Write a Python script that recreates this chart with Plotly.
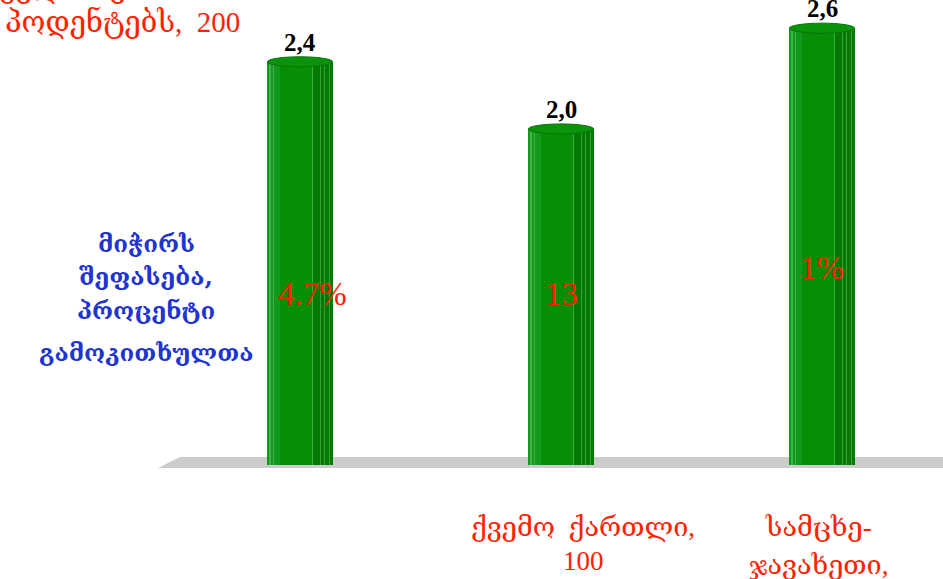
import plotly.graph_objects as go

# ---- data ----
categories = ["ყველა რესპოდენტს, 200", "ქვემო  ქართლი, 100", "სამცხე-ჯავახეთი, 100"]
values = [2.4, 2.0, 2.6]
inner_labels = ["4.7%", "13", "1%"]
inner_label_y = [1.02, 1.02, 1.17]
axis_title_lines = ["მიჭირს", "შეფასება,", "პროცენტი", "გამოკითხულთა"]

W, H = 943, 579
PLOT_BOTTOM = 465  # px of plot-area bottom
def py(px):
    return (PLOT_BOTTOM - px) / PLOT_BOTTOM
def pxx(px):
    return px / W

SERIF = "Liberation Serif, DejaVu Serif, serif"
GEO = "DejaVu Serif, serif"
RED = "#ff2200"
BLUE = "#1f35d0"

x = list(range(len(categories)))
fig = go.Figure()

# main cylinder body
fig.add_trace(go.Bar(x=x, y=values, width=0.25, marker=dict(color="#068f06", line=dict(width=0)),
                     hoverinfo="skip", showlegend=False))
# darker right side
fig.add_trace(go.Bar(x=x, y=values, width=0.075, offset=0.05,
                     marker=dict(color="#037a03", line=dict(width=0)),
                     hoverinfo="skip", showlegend=False))
# light left shading
fig.add_trace(go.Bar(x=x, y=values, width=0.05, offset=-0.125,
                     marker=dict(color="#10991a", line=dict(width=0)),
                     hoverinfo="skip", showlegend=False))
# thin highlight lines
for off in [-0.117, -0.102, 0.045, 0.075, 0.093, 0.112]:
    fig.add_trace(go.Bar(x=x, y=values, width=0.004, offset=off,
                         marker=dict(color="rgba(190,240,190,0.3)", line=dict(width=0)),
                         hoverinfo="skip", showlegend=False))

shapes = []
# cylinder top caps, derived from the data values
for i, v in zip(x, values):
    shapes.append(dict(type="circle", xref="x", yref="y", x0=i - 0.125, x1=i + 0.125,
                       y0=v - 0.03, y1=v + 0.03, fillcolor="#0b930b",
                       line=dict(color="#067306", width=1)))

annotations = []
# value labels (comma decimal)
for i, v in zip(x, values):
    annotations.append(dict(x=i, y=v, xref="x", yref="y",
                            text="<b>" + f"{v:.1f}".replace(".", ",") + "</b>",
                            showarrow=False, xanchor="center", yanchor="bottom", yshift=4,
                            font=dict(family=SERIF, size=25, color="black")))

for i, (lab, yy) in enumerate(zip(inner_labels, inner_label_y)):
    annotations.append(dict(x=i, y=yy, xref="x", yref="y", text=lab, showarrow=False,
                            xanchor="center", xshift=12 if i == 0 else 0,
                            font=dict(family=SERIF, size=33, color=RED)))

for line, ypx in zip(axis_title_lines, [243, 276, 310, 352]):
    annotations.append(dict(x=pxx(146), y=py(ypx), xref="paper", yref="paper", text=line,
                            showarrow=False, xanchor="center", yanchor="middle",
                            font=dict(family=GEO, size=24, color=BLUE, weight="bold")))

def red(txt, xc, yc, size=27):
    annotations.append(dict(x=pxx(xc), y=py(yc), xref="paper", yref="paper", text=txt,
                            showarrow=False, xanchor="center", yanchor="middle",
                            font=dict(family=SERIF, size=size, color=RED)))

# category labels
red("პოდენტებს,  200", 122, 22, 29)
red("ყველა რეს-", 68, -12, 29)
red("ქვემო  ქართლი,", 583, 527)
red("100", 583, 561)
red("სამცხე-", 818, 527)
red("ჯავახეთი,", 818, 565)

shapes.append(dict(type="path", xref="paper", yref="paper", layer="below",
             path=f"M {pxx(158)} {py(468)} L 1 {py(468)} L 1 {py(457)} L {pxx(180)} {py(457)} Z",
             fillcolor="#cccccc", line=dict(width=0)))

fig.update_layout(
    width=W, height=H, margin=dict(l=0, r=0, t=0, b=H - PLOT_BOTTOM),
    paper_bgcolor="white", plot_bgcolor="rgba(0,0,0,0)",
    barmode="overlay", bargap=0,
    xaxis=dict(range=[-300 / 261, (W - 300) / 261], visible=False),
    yaxis=dict(range=[0, PLOT_BOTTOM / 168], visible=False),
    annotations=annotations, shapes=shapes,
)
fig.write_html("out.html", config={"displayModeBar": False},
               post_script="document.body.style.margin='0';document.body.style.overflow='hidden';")
